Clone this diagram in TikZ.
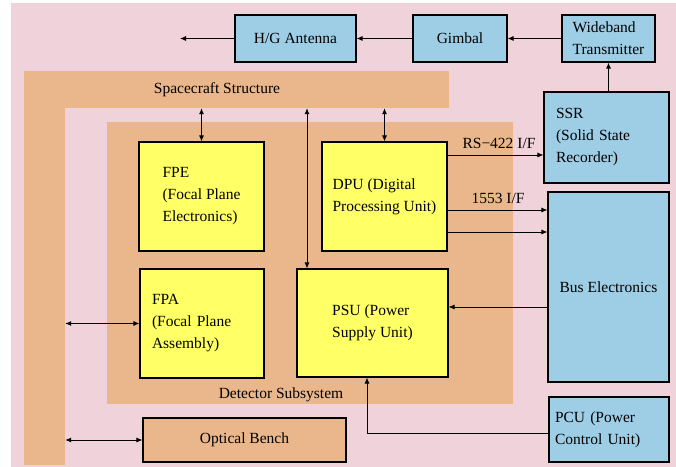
\documentclass[tikz,border=0pt]{standalone}
\usepackage{fontspec}
\setmainfont{Liberation Serif}
\usetikzlibrary{arrows.meta}
\definecolor{rosa}{RGB}{240,210,218}
\definecolor{bronze}{RGB}{233,183,139}
\definecolor{lemon}{RGB}{255,255,102}
\definecolor{skyb}{RGB}{158,206,230}
\newcommand{\bxfont}{\fontsize{15.5bp}{22bp}\selectfont}
\tikzset{
  bx/.style 2 args = {draw=black, line width=1.1pt, inner sep=0pt, align=left,
    font=\bxfont, minimum width=#1, minimum height=#2},
  bl/.style = {fill=skyb},
  ye/.style = {fill=lemon},
  sh/.style 2 args = {fill=bronze, inner sep=0pt, minimum width=#1,
    minimum height=#2},
  ls/.style 2 args = {text width=#1, inner xsep=#2},
  lb/.style = {font=\bxfont, inner sep=0pt},
  ar/.style = {-{Latex[length=6bp, width=5bp]}, line width=0.9pt},
  dar/.style = {{Latex[length=6bp, width=5bp]}-{Latex[length=6bp, width=5bp]},
    line width=0.9pt}
}

\begin{document}
\begin{tikzpicture}[x=1bp, y=-1bp]
  \useasboundingbox (0,0) rectangle (676,467);
  \fill [white] (0,0) rectangle (676,467);
  \fill [rosa] (11,3) rectangle (676,467);
  \node [sh={425bp}{37bp}] (ssh) at (236.5,89.5) {};
  \node [sh={41bp}{394bp}] (ssv) at (44.5,268) {};
  \node [sh={406bp}{282bp}] (det) at (310,263) {};
  \node [lb] (sslbl) at (217,90) {Spacecraft Structure};
  \node [lb] (detlbl) at (281,395) {Detector Subsystem};
  \node [bx={121bp}{47bp}, bl] (ant) at (295.5,38.5) {H/G Antenna};
  \node [bx={94bp}{47bp}, bl] (gim) at (460,38.5) {Gimbal};
  \node [bx={93bp}{47bp}, bl] (wt) at (608.5,38.5) {Wideband\\Transmitter};
  \node [bx={125bp}{91bp}, bl, ls={101bp}{12bp}] (ssr) at (606.5,137.5)
    {SSR\\(Solid State\\Recorder)};
  \node [bx={121bp}{190bp}, bl] (bus) at (608.5,287) {Bus Electronics};
  \node [bx={120bp}{65bp}, bl, ls={108bp}{6bp}] (pcu) at (609,429.5)
    {PCU (Power\\Control Unit)};
  \node [bx={125bp}{109bp}, ye] (fpe) at (201.5,196.5)
    {FPE\\(Focal Plane\\Electronics)};
  \node [bx={125bp}{109bp}, ye] (dpu) at (384.5,196.5)
    {DPU (Digital\\Processing Unit)};
  \node [bx={124bp}{109bp}, ye, ls={100bp}{12bp}] (fpa) at (202,323.5)
    {FPA\\(Focal Plane\\Assembly)};
  \node [bx={151bp}{108bp}, ye] (psu) at (372.5,323) {PSU (Power\\Supply Unit)};
  \node [bx={203bp}{44bp}, fill=bronze, align=center] (bench) at (244.5,440)
    {Optical Bench};
  \node [lb] (rslbl) at (499,143) {RS−422 I/F};
  \node [lb] (iflbl) at (498,198) {1553 I/F};
  \coordinate (sky) at (180,38.5);
  \draw [ar] (ant) -- (sky);
  \draw [ar] (gim) -- (ant);
  \draw [ar] (wt) -- (gim);
  \draw [ar] (ssr.north -| wt.south) -- (wt.south);
  \draw [ar] (dpu.east |- 0,155) -- (ssr.west |- 0,155);
  \draw [ar] (dpu.east |- 0,210) -- (bus.west |- 0,210);
  \draw [ar] (dpu.east |- 0,232) -- (bus.west |- 0,232);
  \draw [ar] (bus.west |- 0,307) -- (psu.east |- 0,307);
  \draw [ar] (pcu.west |- 0,433) -| (psu.south -| 367,0);
  \draw [dar] (fpe.north |- ssh.south) -- (fpe.north);
  \draw [dar] (dpu.north |- ssh.south) -- (dpu.north);
  \draw [dar] (ssh.south -| 307,0) -- (psu.north -| 307,0);
  \draw [dar] (ssv.east |- fpa.west) -- (fpa.west);
  \draw [dar] (ssv.east |- bench.west) -- (bench.west);
\end{tikzpicture}
\end{document}
